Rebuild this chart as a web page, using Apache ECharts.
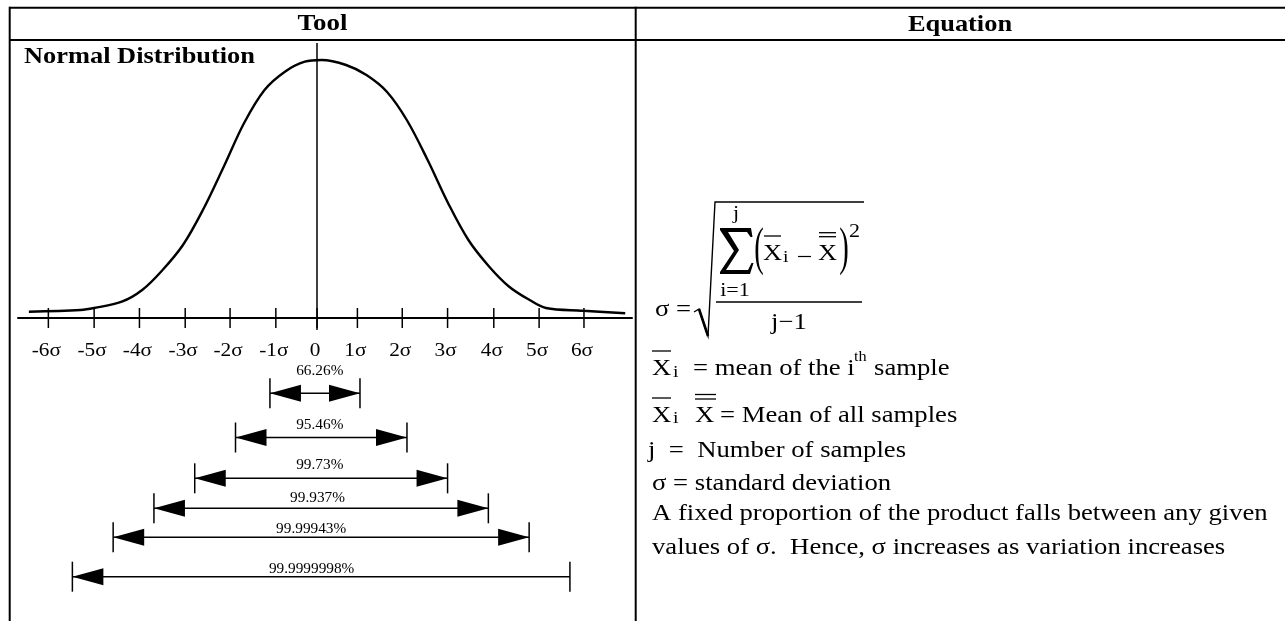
<!DOCTYPE html>
<html>
<head>
<meta charset="utf-8">
<script src="https://cdn.jsdelivr.net/npm/echarts@6/dist/echarts.min.js"></script>
<style>
  html, body { margin: 0; padding: 0; background: #fff; }
  #main { width: 1285px; height: 621px; }
</style>
</head>
<body>
<div id="main"></div>
<script>
// sigma axis: tick labels and where each tick sits
const tickLabels = ['-6σ', '-5σ', '-4σ', '-3σ', '-2σ', '-1σ', '0', '1σ', '2σ', '3σ', '4σ', '5σ', '6σ']
const tickPos = [-5.93, -4.92, -3.92, -2.91, -1.92, -0.91, 0, 0.89, 1.88, 2.88, 3.9, 4.9, 5.89]

// bell curve, x in sigma units, y = height above the axis
const curveX = [-6.36, -5.22, -4.92, -4.31, -3.86, -3.41, -2.96, -2.52, -2.06, -1.61, -1.16, -0.71, -0.27, 0.1,
  0.64, 1.09, 1.54, 1.98, 2.44, 2.89, 3.34, 3.8, 4.24, 4.69, 5.05, 5.87, 6.8]
const curveY = [6.3, 8, 10, 16.3, 28, 48, 73, 108, 151.3, 195, 228, 246.3, 256.3, 258,
  253, 243, 226.3, 198, 158, 115, 78, 51.3, 31.3, 18, 10, 7.3, 4.7]

// coverage arrows under the axis
const arrowLabels = ['66.26%', '95.46%', '99.73%', '99.937%', '99.99943%', '99.9999998%']
const arrowFrom = [-1.04, -1.8, -2.7, -3.6, -4.5, -5.4]
const arrowTo = [0.947, 1.984, 2.88, 3.78, 4.68, 5.58]
const arrowLabelX = [0.06, 0.06, 0.06, 0.01, -0.13, -0.12]
const arrowLineY = [-75.3, -119.5, -160.3, -190.3, -219.3, -258.7]
const arrowLabelY = [-52.7, -107, -147, -180.3, -211.3, -250.7]
const arrowRightHead = [true, true, true, true, true, false]

const SERIF = "'Liberation Serif', 'Times New Roman', serif"

function txt(x, y, text, size, opt) {
  opt = opt || {}
  const align = opt.align || 'left'
  return {
    type: 'text',
    x: x,
    y: y,
    scaleX: opt.sx || 1.16,
    silent: true,
    style: {
      text: text,
      fontSize: size,
      fontFamily: SERIF,
      fontWeight: opt.bold ? 'bold' : 'normal',
      fill: '#000',
      align: align,
      textAlign: align,
      verticalAlign: 'middle',
      textVerticalAlign: 'middle'
    }
  }
}

function seg(x1, y1, x2, y2, w) {
  return {
    type: 'line',
    silent: true,
    shape: { x1: x1, y1: y1, x2: x2, y2: y2 },
    style: { stroke: '#000', lineWidth: w || 1.3 }
  }
}

const chart = echarts.init(document.getElementById('main'), null, { renderer: 'canvas' })

const option = {
  backgroundColor: '#fff',
  animation: false,
  grid: { left: 18, right: 653, top: 0, bottom: 0 },
  xAxis: {
    type: 'value',
    min: -6.6,
    max: 6.95,
    splitLine: { show: false },
    axisTick: { show: false },
    axisLabel: { show: false },
    axisLine: { show: true, onZero: true, lineStyle: { color: '#000', width: 2 } }
  },
  yAxis: {
    type: 'value',
    min: -303,
    max: 318,
    show: false,
    splitLine: { show: false }
  },
  series: [
    {
      name: 'curve',
      type: 'line',
      data: curveX.map((x, i) => [x, curveY[i]]),
      smooth: 0.35,
      symbol: 'none',
      lineStyle: { color: '#000', width: 2.4 },
      markLine: {
        silent: true,
        symbol: 'none',
        label: { show: false },
        lineStyle: { color: '#000', width: 1.5, type: 'solid' },
        data: [[{ coord: [0, 275] }, { coord: [0, -12] }]]
      }
    },
    {
      name: 'ticks',
      type: 'custom',
      data: tickPos.map((p, i) => [p, 0, i]),
      renderItem: function (params, api) {
        const pt = api.coord([api.value(0), 0])
        const lab = tickLabels[api.value(2)]
        return {
          type: 'group',
          children: [
            seg(pt[0], pt[1] - 10, pt[0], pt[1] + 10, 1.5),
            {
              type: 'text',
              x: pt[0] - 2,
              y: pt[1] + 33,
              scaleX: 1.15,
              style: {
                text: lab,
                fontSize: 18.5,
                fontFamily: SERIF,
                fill: '#000',
                align: 'center',
                textAlign: 'center',
                verticalAlign: 'middle',
                textVerticalAlign: 'middle'
              }
            }
          ]
        }
      }
    },
    {
      name: 'coverage',
      type: 'custom',
      encode: { x: [0, 1], y: [2, 3] },
      data: arrowLabels.map((l, i) => [arrowFrom[i], arrowTo[i], arrowLineY[i], arrowLabelY[i], i]),
      renderItem: function (params, api) {
        const i = api.value(4)
        const a = api.coord([api.value(0), api.value(2)])
        const b = api.coord([api.value(1), api.value(2)])
        const lab = api.coord([arrowLabelX[i], api.value(3)])
        const y = a[1]
        const hl = 31, hw = 8.5
        const kids = [
          seg(a[0], y, b[0], y, 1.6),
          seg(a[0], y - 15, a[0], y + 15, 1.5),
          seg(b[0], y - 15, b[0], y + 15, 1.5),
          {
            type: 'polygon',
            shape: { points: [[a[0], y], [a[0] + hl, y - hw], [a[0] + hl, y + hw]] },
            style: { fill: '#000' }
          },
          {
            type: 'text',
            x: lab[0],
            y: lab[1],
            scaleX: 1.02,
            style: {
              text: arrowLabels[i],
              fontSize: 15,
              fontFamily: SERIF,
              fill: '#000',
              align: 'center',
              textAlign: 'center',
              verticalAlign: 'middle',
              textVerticalAlign: 'middle'
            }
          }
        ]
        if (arrowRightHead[i]) {
          kids.push({
            type: 'polygon',
            shape: { points: [[b[0], y], [b[0] - hl, y - hw], [b[0] - hl, y + hw]] },
            style: { fill: '#000' }
          })
        }
        return { type: 'group', children: kids }
      }
    }
  ],
  graphic: [
    // table frame
    seg(9.7, 7.7, 1285, 7.7, 2),
    seg(9.7, 40, 1285, 40, 2),
    seg(9.7, 6.7, 9.7, 621, 2),
    seg(635.7, 6.7, 635.7, 621, 2),
    txt(322.5, 24, 'Tool', 24, { bold: true, align: 'center', sx: 1.12 }),
    txt(960, 25, 'Equation', 24, { bold: true, align: 'center', sx: 1.1 }),
    txt(24, 57, 'Normal Distribution', 24, { bold: true, sx: 1.1 }),

    // sigma formula
    txt(655, 309.5, 'σ =', 23),
    {
      type: 'polyline',
      silent: true,
      shape: { points: [[694, 312], [699, 309], [708, 336], [715, 202], [864, 202]] },
      style: { stroke: '#000', lineWidth: 1.4, fill: null }
    },
    seg(699, 309, 708, 336, 2.6),
    seg(716, 302, 862, 302, 1.3),
    txt(789, 322.5, 'j−1', 23, { align: 'center' }),
    {
      // summation sign
      type: 'polygon',
      silent: true,
      shape: {
        points: [[720, 228], [751, 228], [752.5, 237], [750.5, 237], [747, 232], [728, 232], [739, 250],
          [726, 270], [748, 270], [751.5, 263], [753.5, 263], [750, 274], [720, 274], [720, 272],
          [734, 251], [720, 230]]
      },
      style: { fill: '#000' }
    },
    txt(736, 214, 'j', 19, { align: 'center' }),
    txt(735, 291, 'i=1', 19, { align: 'center' }),
    txt(759, 250, '(', 52, { align: 'center', sx: 0.55 }),
    txt(763, 253.5, 'X', 24, { sx: 1.1 }),
    seg(764, 236, 781, 236, 1.3),
    txt(783, 258, 'i', 17),
    seg(798, 256.5, 811, 256.5, 1.2),
    txt(818, 253.5, 'X', 24, { sx: 1.1 }),
    seg(819, 232.7, 836, 232.7, 1.3),
    seg(819, 236.7, 836, 236.7, 1.3),
    txt(844, 250, ')', 52, { align: 'center', sx: 0.55 }),
    txt(849, 232, '2', 19),

    // definitions
    txt(652, 369, 'X', 23),
    seg(652, 351, 671, 351, 1.3),
    txt(673, 372.5, 'i', 17),
    txt(693, 369, '= mean of the i', 23),
    txt(854, 357, 'th', 14),
    txt(874, 369, 'sample', 23),

    txt(652, 415.5, 'X', 23),
    seg(652, 398, 671, 398, 1.3),
    txt(673, 419, 'i', 17),
    txt(695, 415.5, 'X', 23),
    seg(695, 394.5, 716, 394.5, 1.3),
    seg(695, 399, 716, 399, 1.3),
    txt(720, 415.5, '= Mean of all samples', 23),

    txt(648, 450.5, 'j  =  Number of samples', 23),
    txt(652, 484, 'σ = standard deviation', 23),
    txt(652, 514, 'A fixed proportion of the product falls between any given', 23),
    txt(652, 547.5, 'values of σ.  Hence, σ increases as variation increases', 23)
  ]
}

chart.setOption(option)
</script>
</body>
</html>
